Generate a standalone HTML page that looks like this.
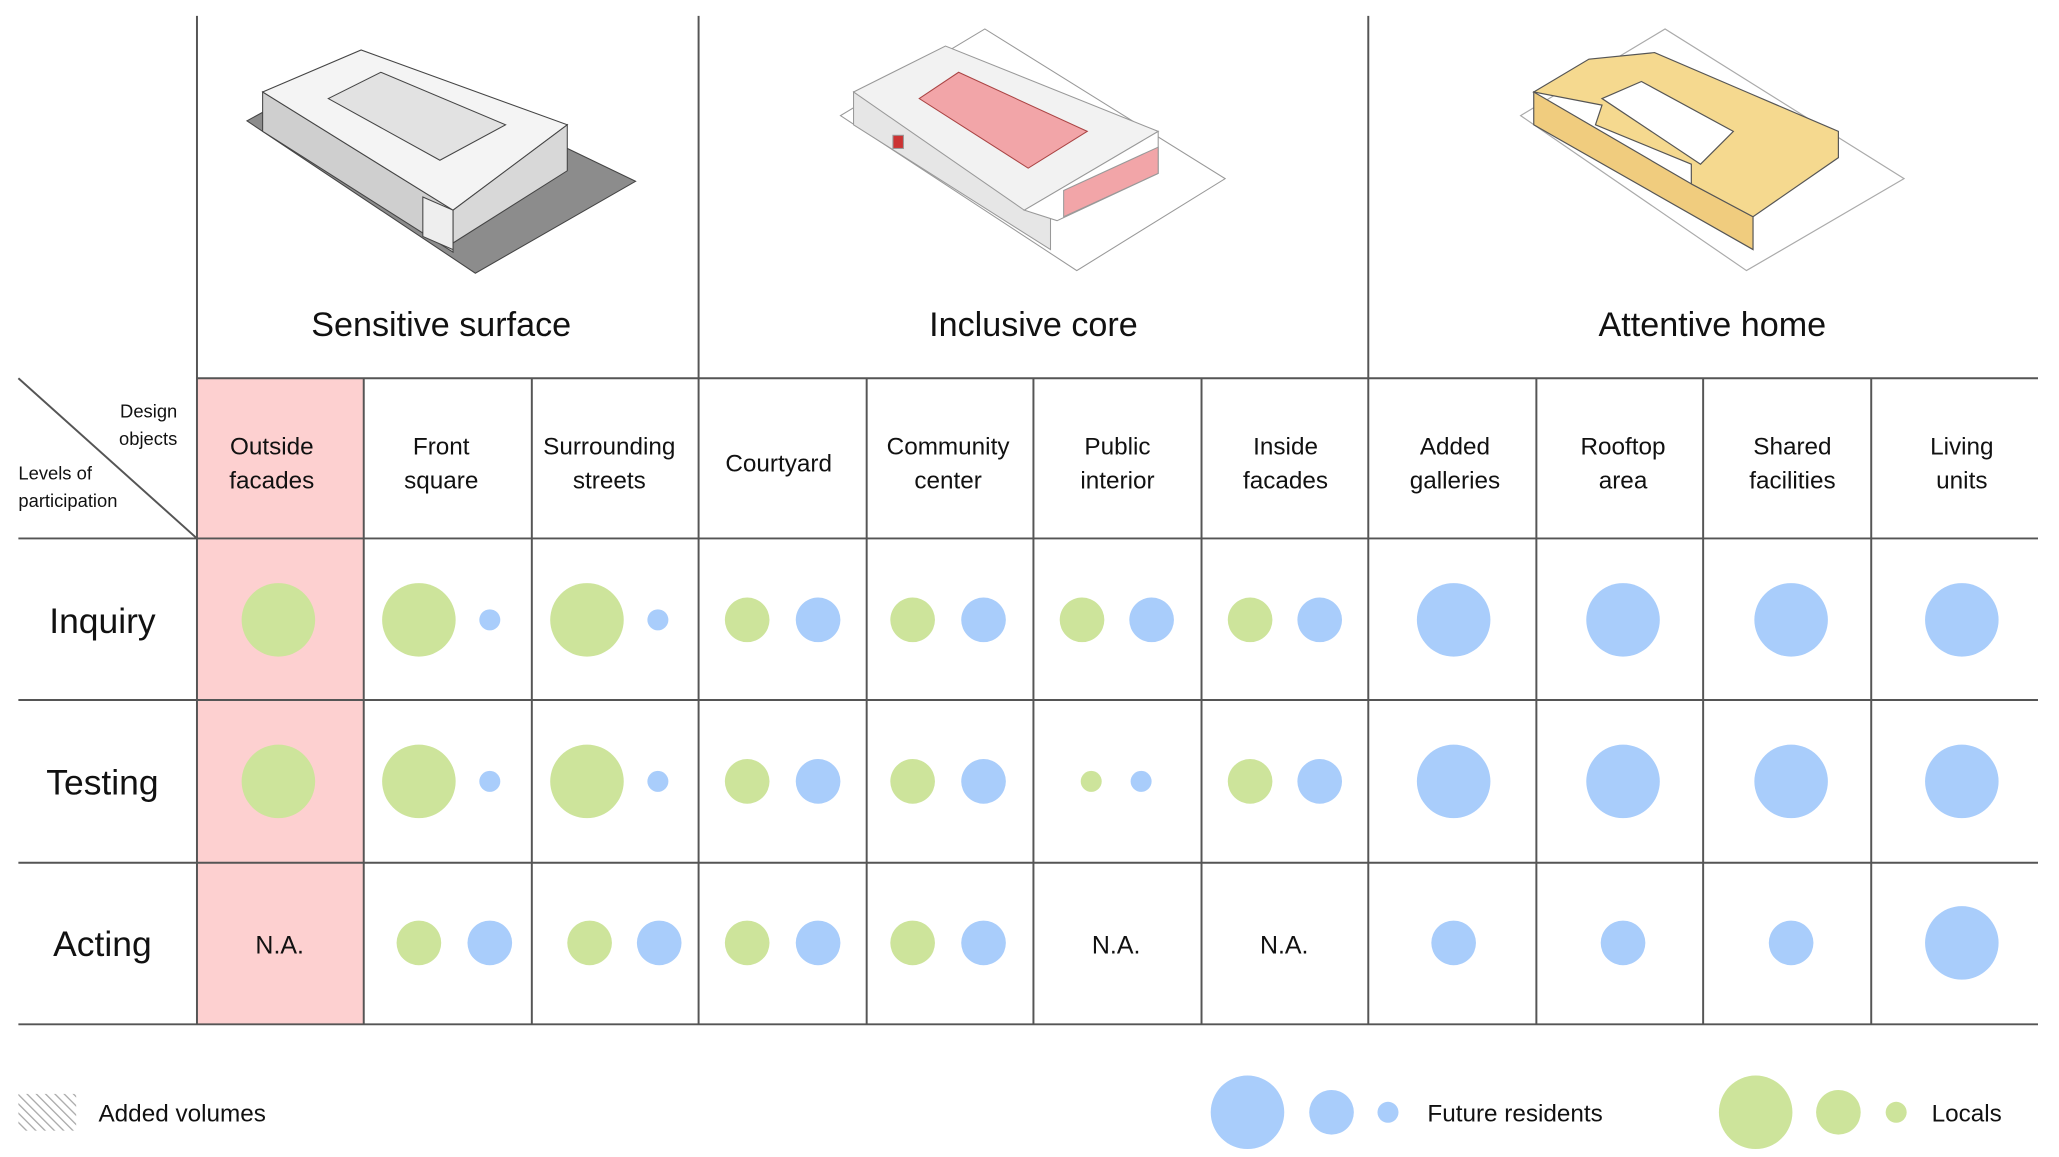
<!DOCTYPE html>
<html><head><meta charset="utf-8"><style>
html,body{margin:0;padding:0;background:#fff}
svg{display:block}
text{font-family:"Liberation Sans","DejaVu Sans",sans-serif;fill:#111}
</style></head><body>
<svg width="2059" height="1157" viewBox="0 0 1568 881" xmlns="http://www.w3.org/2000/svg">
<defs>
<pattern id="h" width="5" height="5" patternUnits="userSpaceOnUse" patternTransform="rotate(-45)">
<rect width="5" height="5" fill="#fff"/><line x1="0" y1="0" x2="0" y2="5" stroke="#aaa" stroke-width="2"/></pattern>
</defs>
<rect x="150" y="288" width="127" height="492" fill="#fdd0d0"/>
<g stroke="#555" stroke-width="1.5" fill="none">
<line x1="150" y1="12" x2="150" y2="780"/>
<line x1="532" y1="12" x2="532" y2="780"/>
<line x1="1042" y1="12" x2="1042" y2="780"/>
<line x1="277" y1="288" x2="277" y2="780"/>
<line x1="405" y1="288" x2="405" y2="780"/>
<line x1="660" y1="288" x2="660" y2="780"/>
<line x1="787" y1="288" x2="787" y2="780"/>
<line x1="915" y1="288" x2="915" y2="780"/>
<line x1="1170" y1="288" x2="1170" y2="780"/>
<line x1="1297" y1="288" x2="1297" y2="780"/>
<line x1="1425" y1="288" x2="1425" y2="780"/>
<line x1="150" y1="288" x2="1552" y2="288"/>
<line x1="14" y1="410" x2="1552" y2="410"/>
<line x1="14" y1="533" x2="1552" y2="533"/>
<line x1="14" y1="657" x2="1552" y2="657"/>
<line x1="14" y1="780" x2="1552" y2="780"/>
<line x1="14" y1="288" x2="150" y2="410"/>
</g>
<!-- building 1 -->
<g stroke="#444" stroke-width="0.8">
<polygon points="188,92 362,208 484,138 430,112 350,170 210,80" fill="#8c8c8c"/>
<polygon points="200,70 200,100 345,192 345,160" fill="#cfcfcf"/>
<polygon points="200,70 275,38 432,95 345,160" fill="#f4f4f4"/>
<polygon points="250,75 290,55 385,95 335,122" fill="#e2e2e2"/>
<polygon points="345,160 432,95 432,130 345,185" fill="#d8d8d8"/>
<polygon points="322,150 345,160 345,190 322,180" fill="#eee"/>
</g>
<!-- building 2 -->
<g stroke="#999" stroke-width="0.8">
<polygon points="640,88 820,206 933,136 750,22" fill="#fff"/>
<polygon points="650,70 650,95 800,190 800,160" fill="#e6e6e6"/>
<polygon points="650,70 720,35 882,100 780,160" fill="#f2f2f2"/>
<polygon points="700,75 730,55 828,100 783,128" fill="#f2a5a8" stroke="#a44"/>
<polygon points="780,160 882,100 882,132 805,168" fill="#fff"/>
<polygon points="810,145 882,112 882,132 810,165" fill="#f2a5a8"/>
<rect x="680" y="103" width="8" height="10" fill="#c33"/>
</g>
<!-- building 3 -->
<g stroke="#555" stroke-width="0.9">
<polygon points="1158,88 1330,206 1450,136 1268,22" fill="#fff" stroke="#aaa"/>
<polygon points="1168,70 1168,95 1335,190 1335,165 1288,140" fill="#f0cc7e"/>
<polygon points="1168,70 1210,45 1260,40 1330,70 1400,100 1400,120 1335,165 1288,140 1288,125 1215,95 1220,80" fill="#f5d98f"/>
<polygon points="1220,75 1250,62 1320,100 1295,125" fill="#fff"/>
</g>
<text x="336" y="256" font-size="26" text-anchor="middle">Sensitive surface</text>
<text x="787" y="256" font-size="26" text-anchor="middle">Inclusive core</text>
<text x="1304" y="256" font-size="26" text-anchor="middle">Attentive home</text>
<g font-size="14" fill="#333">
<text x="135" y="318" text-anchor="end">Design</text>
<text x="135" y="339" text-anchor="end">objects</text>
<text x="14" y="365">Levels of</text>
<text x="14" y="386">participation</text>
</g>
<g font-size="18.5" text-anchor="middle">
<text x="207" y="346">Outside</text><text x="207" y="372">facades</text>
<text x="336" y="346">Front</text><text x="336" y="372">square</text>
<text x="464" y="346">Surrounding</text><text x="464" y="372">streets</text>
<text x="593" y="359">Courtyard</text>
<text x="722" y="346">Community</text><text x="722" y="372">center</text>
<text x="851" y="346">Public</text><text x="851" y="372">interior</text>
<text x="979" y="346">Inside</text><text x="979" y="372">facades</text>
<text x="1108" y="346">Added</text><text x="1108" y="372">galleries</text>
<text x="1236" y="346">Rooftop</text><text x="1236" y="372">area</text>
<text x="1365" y="346">Shared</text><text x="1365" y="372">facilities</text>
<text x="1494" y="346">Living</text><text x="1494" y="372">units</text>
</g>
<g font-size="27" text-anchor="middle">
<text x="78" y="482">Inquiry</text>
<text x="78" y="605">Testing</text>
<text x="78" y="728">Acting</text>
</g>
<g font-size="19" text-anchor="middle">
<text x="213" y="726">N.A.</text>
<text x="850" y="726">N.A.</text>
<text x="978" y="726">N.A.</text>
</g>
<g fill="#cde49b">
<circle cx="212" cy="472" r="28"/><circle cx="319" cy="472" r="28"/><circle cx="447" cy="472" r="28"/>
<circle cx="569" cy="472" r="17"/><circle cx="695" cy="472" r="17"/><circle cx="824" cy="472" r="17"/><circle cx="952" cy="472" r="17"/>
<circle cx="212" cy="595" r="28"/><circle cx="319" cy="595" r="28"/><circle cx="447" cy="595" r="28"/>
<circle cx="569" cy="595" r="17"/><circle cx="695" cy="595" r="17"/><circle cx="831" cy="595" r="8"/><circle cx="952" cy="595" r="17"/>
<circle cx="319" cy="718" r="17"/><circle cx="449" cy="718" r="17"/><circle cx="569" cy="718" r="17"/><circle cx="695" cy="718" r="17"/>
<circle cx="1337" cy="847" r="28"/><circle cx="1400" cy="847" r="17"/><circle cx="1444" cy="847" r="8"/>
</g>
<g fill="#a9cdfb">
<circle cx="373" cy="472" r="8"/><circle cx="501" cy="472" r="8"/>
<circle cx="623" cy="472" r="17"/><circle cx="749" cy="472" r="17"/><circle cx="877" cy="472" r="17"/><circle cx="1005" cy="472" r="17"/>
<circle cx="1107" cy="472" r="28"/><circle cx="1236" cy="472" r="28"/><circle cx="1364" cy="472" r="28"/><circle cx="1494" cy="472" r="28"/>
<circle cx="373" cy="595" r="8"/><circle cx="501" cy="595" r="8"/>
<circle cx="623" cy="595" r="17"/><circle cx="749" cy="595" r="17"/><circle cx="869" cy="595" r="8"/><circle cx="1005" cy="595" r="17"/>
<circle cx="1107" cy="595" r="28"/><circle cx="1236" cy="595" r="28"/><circle cx="1364" cy="595" r="28"/><circle cx="1494" cy="595" r="28"/>
<circle cx="373" cy="718" r="17"/><circle cx="502" cy="718" r="17"/><circle cx="623" cy="718" r="17"/><circle cx="749" cy="718" r="17"/>
<circle cx="1107" cy="718" r="17"/><circle cx="1236" cy="718" r="17"/><circle cx="1364" cy="718" r="17"/><circle cx="1494" cy="718" r="28"/>
<circle cx="950" cy="847" r="28"/><circle cx="1014" cy="847" r="17"/><circle cx="1057" cy="847" r="8"/>
</g>
<rect x="14" y="833" width="44" height="28" fill="url(#h)"/>
<g font-size="18.5">
<text x="75" y="854">Added volumes</text>
<text x="1087" y="854">Future residents</text>
<text x="1471" y="854">Locals</text>
</g>
</svg>
</body></html>
